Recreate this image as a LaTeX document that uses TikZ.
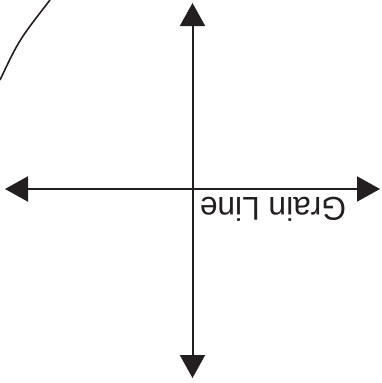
\documentclass[tikz,border=0pt]{standalone}
\usepackage{fontspec}
\setmainfont{Liberation Sans}
\usetikzlibrary{arrows.meta}
\definecolor{ink}{HTML}{231F20}
\tikzset{
  axis/.style={draw=ink, line width=2pt, {Triangle[length=23pt,width=25pt]}-{Triangle[length=23pt,width=25pt]}},
  edgecurve/.style={draw=ink, line width=1.6pt},
  lbl/.style={rotate=180, xscale=0.96, inner sep=0pt, text=ink, font=\fontsize{33}{33}\selectfont}
}
\begin{document}
\begin{tikzpicture}[x=1pt,y=-1pt]
\useasboundingbox (0,0) rectangle (382,383);
\coordinate (left) at (5,189);
\coordinate (right) at (380,189);
\coordinate (top) at (192.5,3);
\coordinate (bottom) at (192.5,378);
\coordinate (c1) at (50,0);
\coordinate (c2) at (0,80);
\draw[axis] (left) -- (right);
\draw[axis] (top) -- (bottom);
\draw[edgecurve] (c1) .. controls (19,40) .. (c2);
\node[lbl] (grain) at (273,209.5) {Grain Line};
\end{tikzpicture}
\end{document}
